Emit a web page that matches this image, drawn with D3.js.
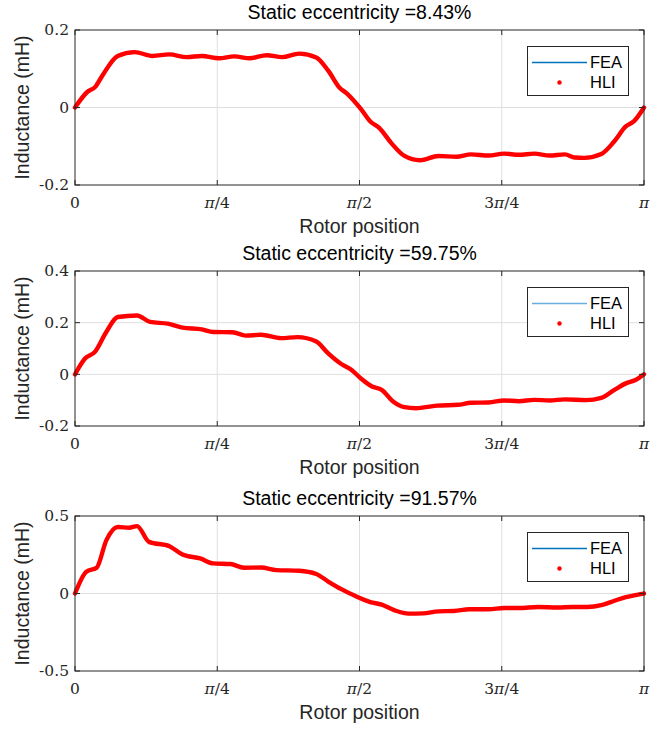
<!DOCTYPE html>
<html>
<head>
<meta charset="utf-8">
<script src="https://cdn.jsdelivr.net/npm/d3@7"></script>
<style>
  body { margin: 0; background: #fff; }
  svg { display: block; }
</style>
</head>
<body>
<div id="chart"></div>
<script>
const width = 667;
const height = 732;

// rotor position as a fraction of pi, inductance in mH
const titles = ["Static eccentricity =8.43%", "Static eccentricity =59.75%", "Static eccentricity =91.57%"];
const yDomains = [[-0.2, 0.2], [-0.2, 0.4], [-0.5, 0.5]];
const yTicks = [[-0.2, 0, 0.2], [-0.2, 0, 0.2, 0.4], [-0.5, 0, 0.5]];
const yTickLabels = [["-0.2", "0", "0.2"], ["-0.2", "0", "0.2", "0.4"], ["-0.5", "0", "0.5"]];
const fea_colors = ["#0072BD", "#6aaee0", "#0072BD"];
const xTicks = [0, 0.25, 0.5, 0.75, 1];

const pos1 = [0, .0215, .036, .048, .075, .105, .136, .166, .196, .223, .253, .280, .307, .337, .364, .394, .424, .445, .465, .478, .502, .519, .535, .556, .579, .606, .639, .670, .696, .727, .754, .780, .807, .834, .861, .878, .895, .925, .948, .968, .982, 1];
const ind1 = [0, .040, .054, .082, .133, .143, .133, .137, .130, .133, .127, .132, .127, .135, .130, .139, .129, .095, .051, .036, -.003, -.036, -.053, -.092, -.125, -.136, -.125, -.127, -.121, -.124, -.119, -.122, -.119, -.124, -.121, -.129, -.130, -.120, -.087, -.049, -.036, 0];

const pos2 = [0, .018, .035, .055, .075, .109, .132, .163, .189, .223, .243, .277, .300, .327, .362, .391, .424, .445, .468, .485, .502, .522, .539, .559, .579, .599, .636, .673, .696, .727, .754, .780, .807, .834, .861, .898, .925, .948, .968, .985, 1];
const ind2 = [0, .062, .087, .164, .222, .228, .203, .196, .181, .174, .164, .163, .150, .153, .140, .144, .127, .081, .040, .019, -.015, -.047, -.060, -.105, -.127, -.131, -.121, -.118, -.110, -.109, -.101, -.104, -.099, -.101, -.097, -.100, -.091, -.060, -.035, -.022, 0];

const pos3 = [0, .020, .038, .055, .075, .095, .109, .130, .166, .189, .220, .243, .273, .297, .327, .354, .394, .424, .445, .468, .492, .519, .539, .562, .586, .612, .639, .666, .693, .727, .754, .780, .814, .848, .874, .901, .925, .948, .968, .985, 1];
const ind3 = [0, .141, .166, .343, .429, .424, .435, .333, .305, .252, .226, .194, .190, .166, .168, .151, .147, .126, .077, .028, -.015, -.055, -.072, -.109, -.130, -.128, -.115, -.113, -.102, -.102, -.094, -.094, -.087, -.090, -.087, -.087, -.075, -.047, -.023, -.011, 0];

const positions = [pos1, pos2, pos3];
const values = [ind1, ind2, ind3];

const marginLeft = 75;
const plotRight = 644;
const plotTops = [30, 271, 516];
const plotH = 155;
const sans = "'Liberation Sans', Arial, sans-serif";
const serif = "'DejaVu Serif', 'Liberation Serif', serif";
const axisColor = "#262626";

const svg = d3.select("#chart").append("svg")
  .attr("width", width)
  .attr("height", height)
  .attr("viewBox", [0, 0, width, height]);

const x = d3.scaleLinear().domain([0, Math.PI]).range([marginLeft, plotRight]);

function piLabel(text, f) {
  text.attr("font-family", serif).attr("font-size", 15.5);
  if (f === 0) text.text("0");
  else if (f === 0.25) { text.append("tspan").attr("font-style", "italic").text("π"); text.append("tspan").text("/4"); }
  else if (f === 0.5) { text.append("tspan").attr("font-style", "italic").text("π"); text.append("tspan").text("/2"); }
  else if (f === 0.75) { text.append("tspan").text("3"); text.append("tspan").attr("font-style", "italic").text("π"); text.append("tspan").text("/4"); }
  else text.append("tspan").attr("font-style", "italic").text("π");
}

titles.forEach((title, i) => {
  const top = plotTops[i];
  const bottom = top + plotH;
  const y = d3.scaleLinear().domain(yDomains[i]).range([bottom, top]);
  const g = svg.append("g");

  // grid
  g.append("g").selectAll("line").data(xTicks.slice(1, -1)).join("line")
    .attr("x1", d => x(d * Math.PI)).attr("x2", d => x(d * Math.PI))
    .attr("y1", top).attr("y2", bottom)
    .attr("stroke", "#dfdfdf").attr("stroke-width", 1);
  g.append("g").selectAll("line").data(yTicks[i].filter(d => d !== yDomains[i][0] && d !== yDomains[i][1])).join("line")
    .attr("x1", marginLeft).attr("x2", plotRight)
    .attr("y1", d => y(d)).attr("y2", d => y(d))
    .attr("stroke", "#dfdfdf").attr("stroke-width", 1);

  // data
  const pts = positions[i].map((p, k) => [p * Math.PI, values[i][k]]);
  const line = d3.line().x(d => x(d[0])).y(d => y(d[1])).curve(d3.curveMonotoneX);
  g.append("path").datum(pts).attr("d", line)
    .attr("fill", "none").attr("stroke", fea_colors[i]).attr("stroke-width", 1);
  g.append("path").datum(pts).attr("d", line)
    .attr("fill", "none").attr("stroke", "#ff0000").attr("stroke-width", 4.4)
    .attr("stroke-linecap", "round").attr("stroke-linejoin", "round");

  // box and ticks
  g.append("rect").attr("x", marginLeft).attr("y", top)
    .attr("width", plotRight - marginLeft).attr("height", plotH)
    .attr("fill", "none").attr("stroke", axisColor).attr("stroke-width", 1);
  const tl = 5;
  g.append("g").selectAll("path").data(xTicks).join("path")
    .attr("d", d => `M${x(d * Math.PI)},${bottom}v${-tl}M${x(d * Math.PI)},${top}v${tl}`)
    .attr("stroke", axisColor);
  g.append("g").selectAll("path").data(yTicks[i]).join("path")
    .attr("d", d => `M${marginLeft},${y(d)}h${tl}M${plotRight},${y(d)}h${-tl}`)
    .attr("stroke", axisColor);

  // tick labels
  xTicks.forEach(f => {
    g.append("text").attr("x", x(f * Math.PI)).attr("y", bottom + 23)
      .attr("text-anchor", "middle").attr("fill", axisColor)
      .call(t => piLabel(t, f));
  });
  yTicks[i].forEach((d, k) => {
    g.append("text").attr("x", marginLeft - 6).attr("y", y(d)).attr("dy", "0.35em")
      .attr("text-anchor", "end").attr("fill", axisColor)
      .attr("font-family", serif).attr("font-size", 15.5)
      .text(yTickLabels[i][k]);
  });

  // title, labels
  g.append("text").attr("x", (marginLeft + plotRight) / 2).attr("y", top - 11)
    .attr("text-anchor", "middle").attr("font-family", sans).attr("font-size", 19.5)
    .attr("fill", "#000").text(title);
  g.append("text").attr("x", (marginLeft + plotRight) / 2).attr("y", bottom + 48)
    .attr("text-anchor", "middle").attr("font-family", sans).attr("font-size", 19.5)
    .attr("fill", axisColor).text("Rotor position");
  g.append("text")
    .attr("transform", `translate(29,${top + plotH / 2}) rotate(-90)`)
    .attr("text-anchor", "middle").attr("font-family", sans).attr("font-size", 19.5)
    .attr("fill", axisColor).text("Inductance (mH)");

  // legend
  const lx = 527.5, ly = top + 16.5;
  const leg = g.append("g").attr("transform", `translate(${lx},${ly})`);
  leg.append("rect").attr("width", 101).attr("height", 49)
    .attr("fill", "#fff").attr("stroke", axisColor).attr("stroke-width", 1);
  leg.append("line").attr("x1", 4.5).attr("x2", 59.5).attr("y1", 16).attr("y2", 16)
    .attr("stroke", fea_colors[i]).attr("stroke-width", 1.5);
  leg.append("text").attr("x", 62.5).attr("y", 16).attr("dy", "0.35em")
    .attr("font-family", sans).attr("font-size", 16.5).text("FEA");
  leg.append("circle").attr("cx", 32).attr("cy", 36).attr("r", 2.2).attr("fill", "#ff0000");
  leg.append("text").attr("x", 62.5).attr("y", 36).attr("dy", "0.35em")
    .attr("font-family", sans).attr("font-size", 16.5).text("HLI");
});
</script>
</body>
</html>
